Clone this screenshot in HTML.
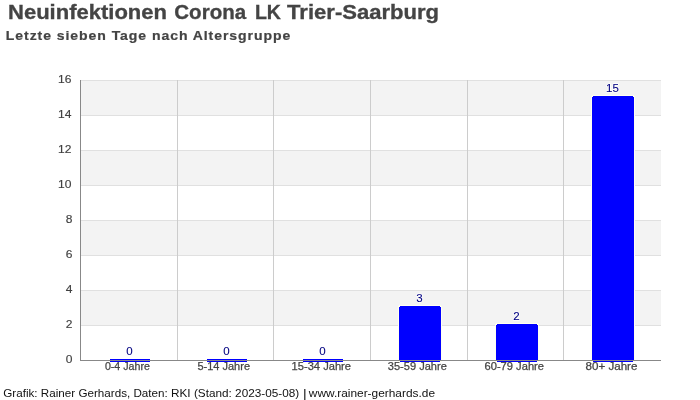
<!DOCTYPE html>
<html><head><meta charset="utf-8">
<style>
html,body{margin:0;padding:0;background:#fff;}
body{width:700px;height:400px;overflow:hidden;position:relative;}
svg{position:absolute;left:0;top:0;}
.t{will-change:transform;}
text{font-family:"Liberation Sans",sans-serif;}
</style></head><body>
<svg width="700" height="400" viewBox="0 0 700 400">
<g shape-rendering="crispEdges">
<rect x="81" y="80" width="580" height="35" fill="#f3f3f3"/>
<rect x="81" y="150" width="580" height="35" fill="#f3f3f3"/>
<rect x="81" y="220" width="580" height="35" fill="#f3f3f3"/>
<rect x="81" y="290" width="580" height="35" fill="#f3f3f3"/>
<rect x="81" y="80" width="580" height="1" fill="#e0e0e0"/>
<rect x="81" y="115" width="580" height="1" fill="#e0e0e0"/>
<rect x="81" y="150" width="580" height="1" fill="#e0e0e0"/>
<rect x="81" y="185" width="580" height="1" fill="#e0e0e0"/>
<rect x="81" y="220" width="580" height="1" fill="#e0e0e0"/>
<rect x="81" y="255" width="580" height="1" fill="#e0e0e0"/>
<rect x="81" y="290" width="580" height="1" fill="#e0e0e0"/>
<rect x="81" y="325" width="580" height="1" fill="#e0e0e0"/>
<rect x="177" y="80" width="1" height="280" fill="#cccccc"/>
<rect x="273" y="80" width="1" height="280" fill="#cccccc"/>
<rect x="370" y="80" width="1" height="280" fill="#cccccc"/>
<rect x="467" y="80" width="1" height="280" fill="#cccccc"/>
<rect x="563" y="80" width="1" height="280" fill="#cccccc"/>
</g>
<g shape-rendering="crispEdges">
<rect x="110" y="359" width="40" height="3" fill="#0000ff"/>
<rect x="207" y="359" width="40" height="3" fill="#0000ff"/>
<rect x="303" y="359" width="40" height="3" fill="#0000ff"/>
<path d="M399 305H441V306H442V362H398V306H399Z" fill="#fffff0"/>
<path d="M400 306H440V307H441V361H440V362H400V361H399V307H400Z" fill="#0000ff"/>
<path d="M496 323H538V324H539V362H495V324H496Z" fill="#fffff0"/>
<path d="M497 324H537V325H538V361H537V362H497V361H496V325H497Z" fill="#0000ff"/>
<path d="M592 95H634V96H635V362H591V96H592Z" fill="#fffff0"/>
<path d="M593 96H633V97H634V361H633V362H593V361H592V97H593Z" fill="#0000ff"/>
</g>
<g shape-rendering="crispEdges" fill="#888888"><rect x="80" y="80" width="1" height="281"/><rect x="80" y="360" width="581" height="1"/></g>
</svg>
<svg class="t" width="700" height="400" viewBox="0 0 700 400">
<g fill="#ffffff" font-size="11.5" text-anchor="middle" stroke="#ffffff" stroke-width="1.5" stroke-linejoin="round">
<text x="129.5" y="355">0</text>
<text x="226.5" y="355">0</text>
<text x="322.5" y="355">0</text>
<text x="419.5" y="302">3</text>
<text x="516.5" y="320">2</text>
<text x="612.5" y="92">15</text>
</g>
<g fill="#000080" font-size="11.5" text-anchor="middle" stroke="#000080" stroke-width="0.1">
<text x="129.5" y="355">0</text>
<text x="226.5" y="355">0</text>
<text x="322.5" y="355">0</text>
<text x="419.5" y="302">3</text>
<text x="516.5" y="320">2</text>
<text x="612.5" y="92">15</text>
</g>
<g fill="#404040" stroke="#404040" stroke-width="0.15" font-size="11.5" text-anchor="end">
<text x="71.5" y="83" textLength="13.4" lengthAdjust="spacingAndGlyphs">16</text>
<text x="71.5" y="118" textLength="13.4" lengthAdjust="spacingAndGlyphs">14</text>
<text x="71.5" y="153" textLength="13.4" lengthAdjust="spacingAndGlyphs">12</text>
<text x="71.5" y="188" textLength="13.4" lengthAdjust="spacingAndGlyphs">10</text>
<text x="72.4" y="223" textLength="6.7" lengthAdjust="spacingAndGlyphs">8</text>
<text x="72.4" y="258" textLength="6.7" lengthAdjust="spacingAndGlyphs">6</text>
<text x="72.4" y="293" textLength="6.7" lengthAdjust="spacingAndGlyphs">4</text>
<text x="72.4" y="328" textLength="6.7" lengthAdjust="spacingAndGlyphs">2</text>
<text x="72.4" y="363" textLength="6.7" lengthAdjust="spacingAndGlyphs">0</text>
</g>
<g fill="#444444" stroke="#444444" stroke-width="0.25" font-size="10.6">
<text x="104.9" y="370" textLength="45.0" lengthAdjust="spacingAndGlyphs">0-4 Jahre</text>
<text x="197.5" y="370" textLength="52.5" lengthAdjust="spacingAndGlyphs">5-14 Jahre</text>
<text x="291.6" y="370" textLength="59.4" lengthAdjust="spacingAndGlyphs">15-34 Jahre</text>
<text x="387.8" y="370" textLength="59.0" lengthAdjust="spacingAndGlyphs">35-59 Jahre</text>
<text x="484.5" y="370" textLength="59.5" lengthAdjust="spacingAndGlyphs">60-79 Jahre</text>
<text x="585.5" y="370" textLength="51.9" lengthAdjust="spacingAndGlyphs">80+ Jahre</text>
</g>
<g fill="#444444" stroke="#444444" stroke-width="0.3" font-size="19.3" font-weight="bold">
<text x="8.0" y="18.9" textLength="159.0" lengthAdjust="spacingAndGlyphs">Neuinfektionen</text>
<text x="174.3" y="18.9" textLength="71.8" lengthAdjust="spacingAndGlyphs">Corona</text>
<text x="254.9" y="18.9" textLength="26.0" lengthAdjust="spacingAndGlyphs">LK</text>
<text x="287.1" y="18.9" textLength="151.9" lengthAdjust="spacingAndGlyphs">Trier-Saarburg</text>
</g>
<text transform="scale(1.17 1)" x="4.957" y="39.8" fill="#444444" stroke="#444444" stroke-width="0.2" font-size="12" font-weight="bold" textLength="243.162" lengthAdjust="spacing">Letzte sieben Tage nach Altersgruppe</text>
<g fill="#111111" font-size="10.5">
<text x="3.3" y="396.6" textLength="164.5" lengthAdjust="spacingAndGlyphs">Grafik: Rainer Gerhards, Daten:</text>
<text x="171.0" y="396.6" textLength="128.2" lengthAdjust="spacingAndGlyphs">RKI (Stand: 2023-05-08)</text>
<rect x="304" y="389" width="1.5" height="11" fill="#4a4a4a"/>
<text x="308.8" y="396.6" textLength="126.2" lengthAdjust="spacingAndGlyphs">www.rainer-gerhards.de</text>
</g>
</svg>
</body></html>
